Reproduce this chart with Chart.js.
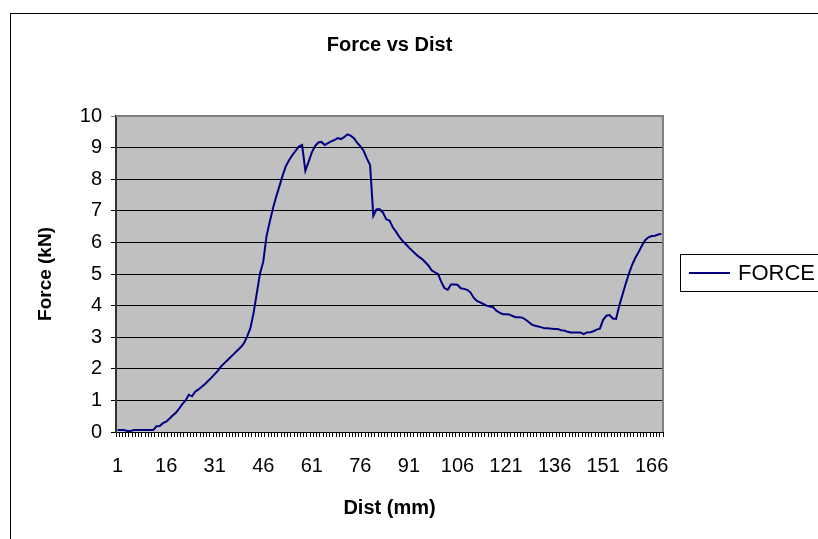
<!DOCTYPE html>
<html>
<head>
<meta charset="utf-8">
<script src="https://cdn.jsdelivr.net/npm/chart.js@4.4.0/dist/chart.umd.min.js"></script>
<style>
  html, body { margin: 0; padding: 0; background: #fff; }
</style>
</head>
<body>
<canvas id="forceChart" width="818" height="539"></canvas>
<script>
// distance readings, one per mm
const dist = [
  1, 2, 3, 4, 5, 6, 7, 8, 9, 10, 11, 12, 13, 14, 15, 16, 17, 18, 19, 20,
  21, 22, 23, 24, 25, 26, 27, 28, 29, 30, 31, 32, 33, 34, 35, 36, 37, 38, 39, 40,
  41, 42, 43, 44, 45, 46, 47, 48, 49, 50, 51, 52, 53, 54, 55, 56, 57, 58, 59, 60,
  61, 62, 63, 64, 65, 66, 67, 68, 69, 70, 71, 72, 73, 74, 75, 76, 77, 78, 79, 80,
  81, 82, 83, 84, 85, 86, 87, 88, 89, 90, 91, 92, 93, 94, 95, 96, 97, 98, 99, 100,
  101, 102, 103, 104, 105, 106, 107, 108, 109, 110, 111, 112, 113, 114, 115, 116, 117, 118, 119, 120,
  121, 122, 123, 124, 125, 126, 127, 128, 129, 130, 131, 132, 133, 134, 135, 136, 137, 138, 139, 140,
  141, 142, 143, 144, 145, 146, 147, 148, 149, 150, 151, 152, 153, 154, 155, 156, 157, 158, 159, 160,
  161, 162, 163, 164, 165, 166, 167, 168, 169
];

// force in kN
const force = [
  0.06, 0.06, 0.06, 0.03, 0.03, 0.06, 0.06, 0.06, 0.06, 0.06,
  0.06, 0.06, 0.18, 0.19, 0.28, 0.33, 0.42, 0.52, 0.61, 0.74,
  0.88, 1.00, 1.18, 1.13, 1.28, 1.35, 1.43, 1.52, 1.62, 1.72,
  1.83, 1.94, 2.08, 2.18, 2.28, 2.38, 2.48, 2.58, 2.68, 2.80,
  3.02, 3.28, 3.76, 4.39, 5.02, 5.39, 6.20, 6.65, 7.08, 7.45,
  7.78, 8.12, 8.42, 8.61, 8.76, 8.90, 9.03, 9.08, 8.27, 8.55,
  8.85, 9.05, 9.16, 9.18, 9.08, 9.14, 9.20, 9.24, 9.30, 9.27,
  9.33, 9.42, 9.38, 9.30, 9.16, 9.04, 8.90, 8.66, 8.45, 6.84,
  7.05, 7.05, 6.94, 6.73, 6.69, 6.48, 6.34, 6.18, 6.05, 5.95,
  5.84, 5.74, 5.64, 5.55, 5.48, 5.38, 5.27, 5.12, 5.05, 5.00,
  4.75, 4.55, 4.50, 4.67, 4.67, 4.66, 4.55, 4.53, 4.50, 4.42,
  4.25, 4.15, 4.10, 4.05, 4.00, 3.97, 3.95, 3.84, 3.78, 3.73,
  3.73, 3.72, 3.67, 3.63, 3.63, 3.62, 3.56, 3.48, 3.40, 3.36,
  3.34, 3.31, 3.28, 3.28, 3.27, 3.26, 3.26, 3.22, 3.21, 3.17,
  3.15, 3.15, 3.15, 3.15, 3.10, 3.15, 3.16, 3.19, 3.24, 3.27,
  3.55, 3.68, 3.70, 3.59, 3.58, 4.00, 4.35, 4.70, 5.02, 5.30,
  5.52, 5.70, 5.90, 6.07, 6.16, 6.20, 6.21, 6.25, 6.27
];

// labelled distances on the x axis
const distTicks = [1, 16, 31, 46, 61, 76, 91, 106, 121, 136, 151, 166];
const forceTicks = [0, 1, 2, 3, 4, 5, 6, 7, 8, 9, 10];

const chartTitle = 'Force vs Dist';
const FONT = "'Liberation Sans', Arial, sans-serif";

// grey plot area, outer frame, plot border and the title over the plot
const plotFrame = {
  id: 'plotFrame',
  beforeDraw(chart) {
    const { ctx, chartArea: a } = chart;
    ctx.save();
    ctx.strokeStyle = '#000';
    ctx.lineWidth = 1;
    ctx.strokeRect(10.5, 13.5, 900, 600);
    ctx.fillStyle = '#c0c0c0';
    ctx.fillRect(a.left, a.top, a.right - a.left, a.bottom - a.top);
    ctx.fillStyle = '#000';
    ctx.font = 'bold 20px ' + FONT;
    ctx.textAlign = 'center';
    ctx.textBaseline = 'middle';
    ctx.fillText(chartTitle, (a.left + a.right) / 2, 45);
    ctx.restore();
  },
  beforeDatasetsDraw(chart) {
    const { ctx, chartArea: a } = chart;
    ctx.save();
    ctx.strokeStyle = '#808080';
    ctx.lineWidth = 2;
    ctx.beginPath();
    ctx.moveTo(a.left, a.top);
    ctx.lineTo(a.right, a.top);
    ctx.lineTo(a.right, a.bottom);
    ctx.stroke();
    ctx.restore();
  }
};

// boxed legend to the right of the plot
const sideLegend = {
  id: 'sideLegend',
  afterDraw(chart) {
    const ctx = chart.ctx;
    const ds = chart.data.datasets[0];
    ctx.save();
    ctx.fillStyle = '#fff';
    ctx.fillRect(681, 255, 160, 37);
    ctx.strokeStyle = '#000';
    ctx.lineWidth = 1;
    ctx.strokeRect(680.5, 254.5, 160, 37);
    ctx.strokeStyle = ds.borderColor;
    ctx.lineWidth = 2;
    ctx.beginPath();
    ctx.moveTo(689, 273);
    ctx.lineTo(730, 273);
    ctx.stroke();
    ctx.fillStyle = '#000';
    ctx.font = '22px ' + FONT;
    ctx.textBaseline = 'middle';
    ctx.fillText(ds.label, 738, 274);
    ctx.restore();
  }
};

new Chart(document.getElementById('forceChart'), {
  type: 'line',
  data: {
    labels: dist,
    datasets: [{
      label: 'FORCE',
      data: force,
      borderColor: '#000080',
      borderWidth: 2,
      pointRadius: 0,
      tension: 0,
      fill: false
    }]
  },
  options: {
    responsive: false,
    devicePixelRatio: 1,
    animation: false,
    layout: { padding: { left: 10, right: 155, top: 116, bottom: 10 } },
    plugins: {
      legend: { display: false },
      tooltip: { enabled: false },
      title: { display: false }
    },
    scales: {
      x: {
        type: 'category',
        offset: true,
        afterFit(scale) { scale.height = 97; },
        grid: {
          offset: true,
          drawOnChartArea: false,
          drawTicks: true,
          tickLength: 5,
          color: '#000'
        },
        border: { color: '#000', width: 1 },
        ticks: {
          autoSkip: false,
          maxRotation: 0,
          minRotation: 0,
          padding: 17,
          color: '#000',
          font: { family: FONT, size: 20 },
          callback(value, index) {
            const d = dist[index];
            return distTicks.includes(d) ? String(d) : '';
          }
        },
        title: {
          display: true,
          text: 'Dist (mm)',
          color: '#000',
          font: { family: FONT, size: 20, weight: 'bold' },
          padding: { top: 0, bottom: 9 }
        }
      },
      y: {
        min: 0,
        max: 10,
        afterFit(scale) { scale.width = 106; },
        afterBuildTicks(scale) {
          scale.ticks = forceTicks.map(v => ({ value: v }));
        },
        grid: {
          tickLength: 5,
          color: ctx => (ctx.tick && ctx.tick.value === 10) ? '#808080' : '#000',
          lineWidth: 1
        },
        border: { color: '#333', width: 2 },
        ticks: {
          padding: 9,
          color: '#000',
          font: { family: FONT, size: 20 }
        },
        title: {
          display: true,
          text: 'Force (kN)',
          color: '#000',
          font: { family: FONT, size: 19, weight: 'bold' },
          padding: { top: 24, bottom: 0 }
        }
      }
    }
  },
  plugins: [plotFrame, sideLegend]
});
</script>
</body>
</html>
